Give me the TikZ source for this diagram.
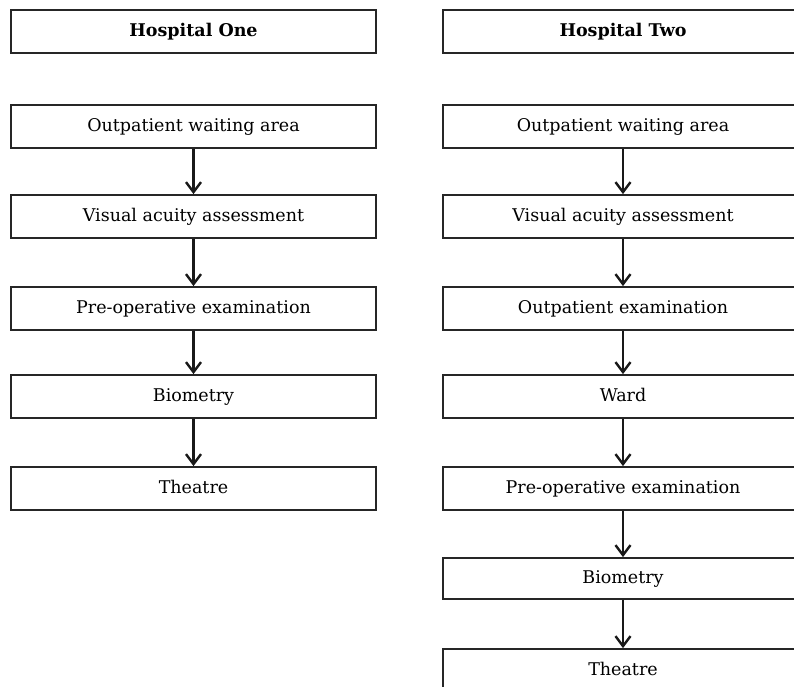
\documentclass[tikz,border=0pt]{standalone}
\usepackage{fontspec}
\setmainfont{DejaVu Serif}
\usetikzlibrary{arrows.meta}
\begin{document}
\begin{tikzpicture}[x=1pt,y=-1pt,
  box/.style={draw=black!85, line width=1.8pt, inner sep=0pt, minimum height=43pt, text height=13pt, text depth=3pt, font=\fontsize{17.5}{20}\selectfont},
  lbox/.style={box, minimum width=365pt},
  rbox/.style={box, minimum width=360pt},
  hdr/.style={font=\fontsize{17.5}{20}\selectfont\bfseries},
  arr/.style={draw=black!90, line width=2.6pt, -{Straight Barb[length=10pt,width=15pt,line width=2.4pt]}}]
\useasboundingbox (0,0) rectangle (794,686);
\clip (0,0) rectangle (794,686);
% left column
\node[lbox,hdr] (lh) at (193.5,31.5) {Hospital One};
\node[lbox] (l1) at (193.5,126.5) {Outpatient waiting area};
\node[lbox] (l2) at (193.5,216.5) {Visual acuity assessment};
\node[lbox] (l3) at (193.5,308.5) {Pre-operative examination};
\node[lbox] (l4) at (193.5,396.5) {Biometry};
\node[lbox] (l5) at (193.5,488.5) {Theatre};
% right column
\node[rbox,hdr] (rh) at (623,31.5) {Hospital Two};
\node[rbox] (r1) at (623,126.5) {Outpatient waiting area};
\node[rbox] (r2) at (623,216.5) {Visual acuity assessment};
\node[rbox] (r3) at (623,308.5) {Outpatient examination};
\node[rbox] (r4) at (623,396.5) {Ward};
\node[rbox] (r5) at (623,488.5) {Pre-operative examination};
\node[rbox, minimum height=41pt] (r6) at (623,578.5) {Biometry};
\node[rbox] (r7) at (623,670.5) {Theatre};
% arrows
\draw[arr] (l1.south) -- (l2.north);
\draw[arr] (l2.south) -- (l3.north);
\draw[arr] (l3.south) -- (l4.north);
\draw[arr] (l4.south) -- (l5.north);
\draw[arr] (r1.south) -- (r2.north);
\draw[arr] (r2.south) -- (r3.north);
\draw[arr] (r3.south) -- (r4.north);
\draw[arr] (r4.south) -- (r5.north);
\draw[arr] (r5.south) -- (r6.north);
\draw[arr] (r6.south) -- (r7.north);
\end{tikzpicture}
\end{document}
